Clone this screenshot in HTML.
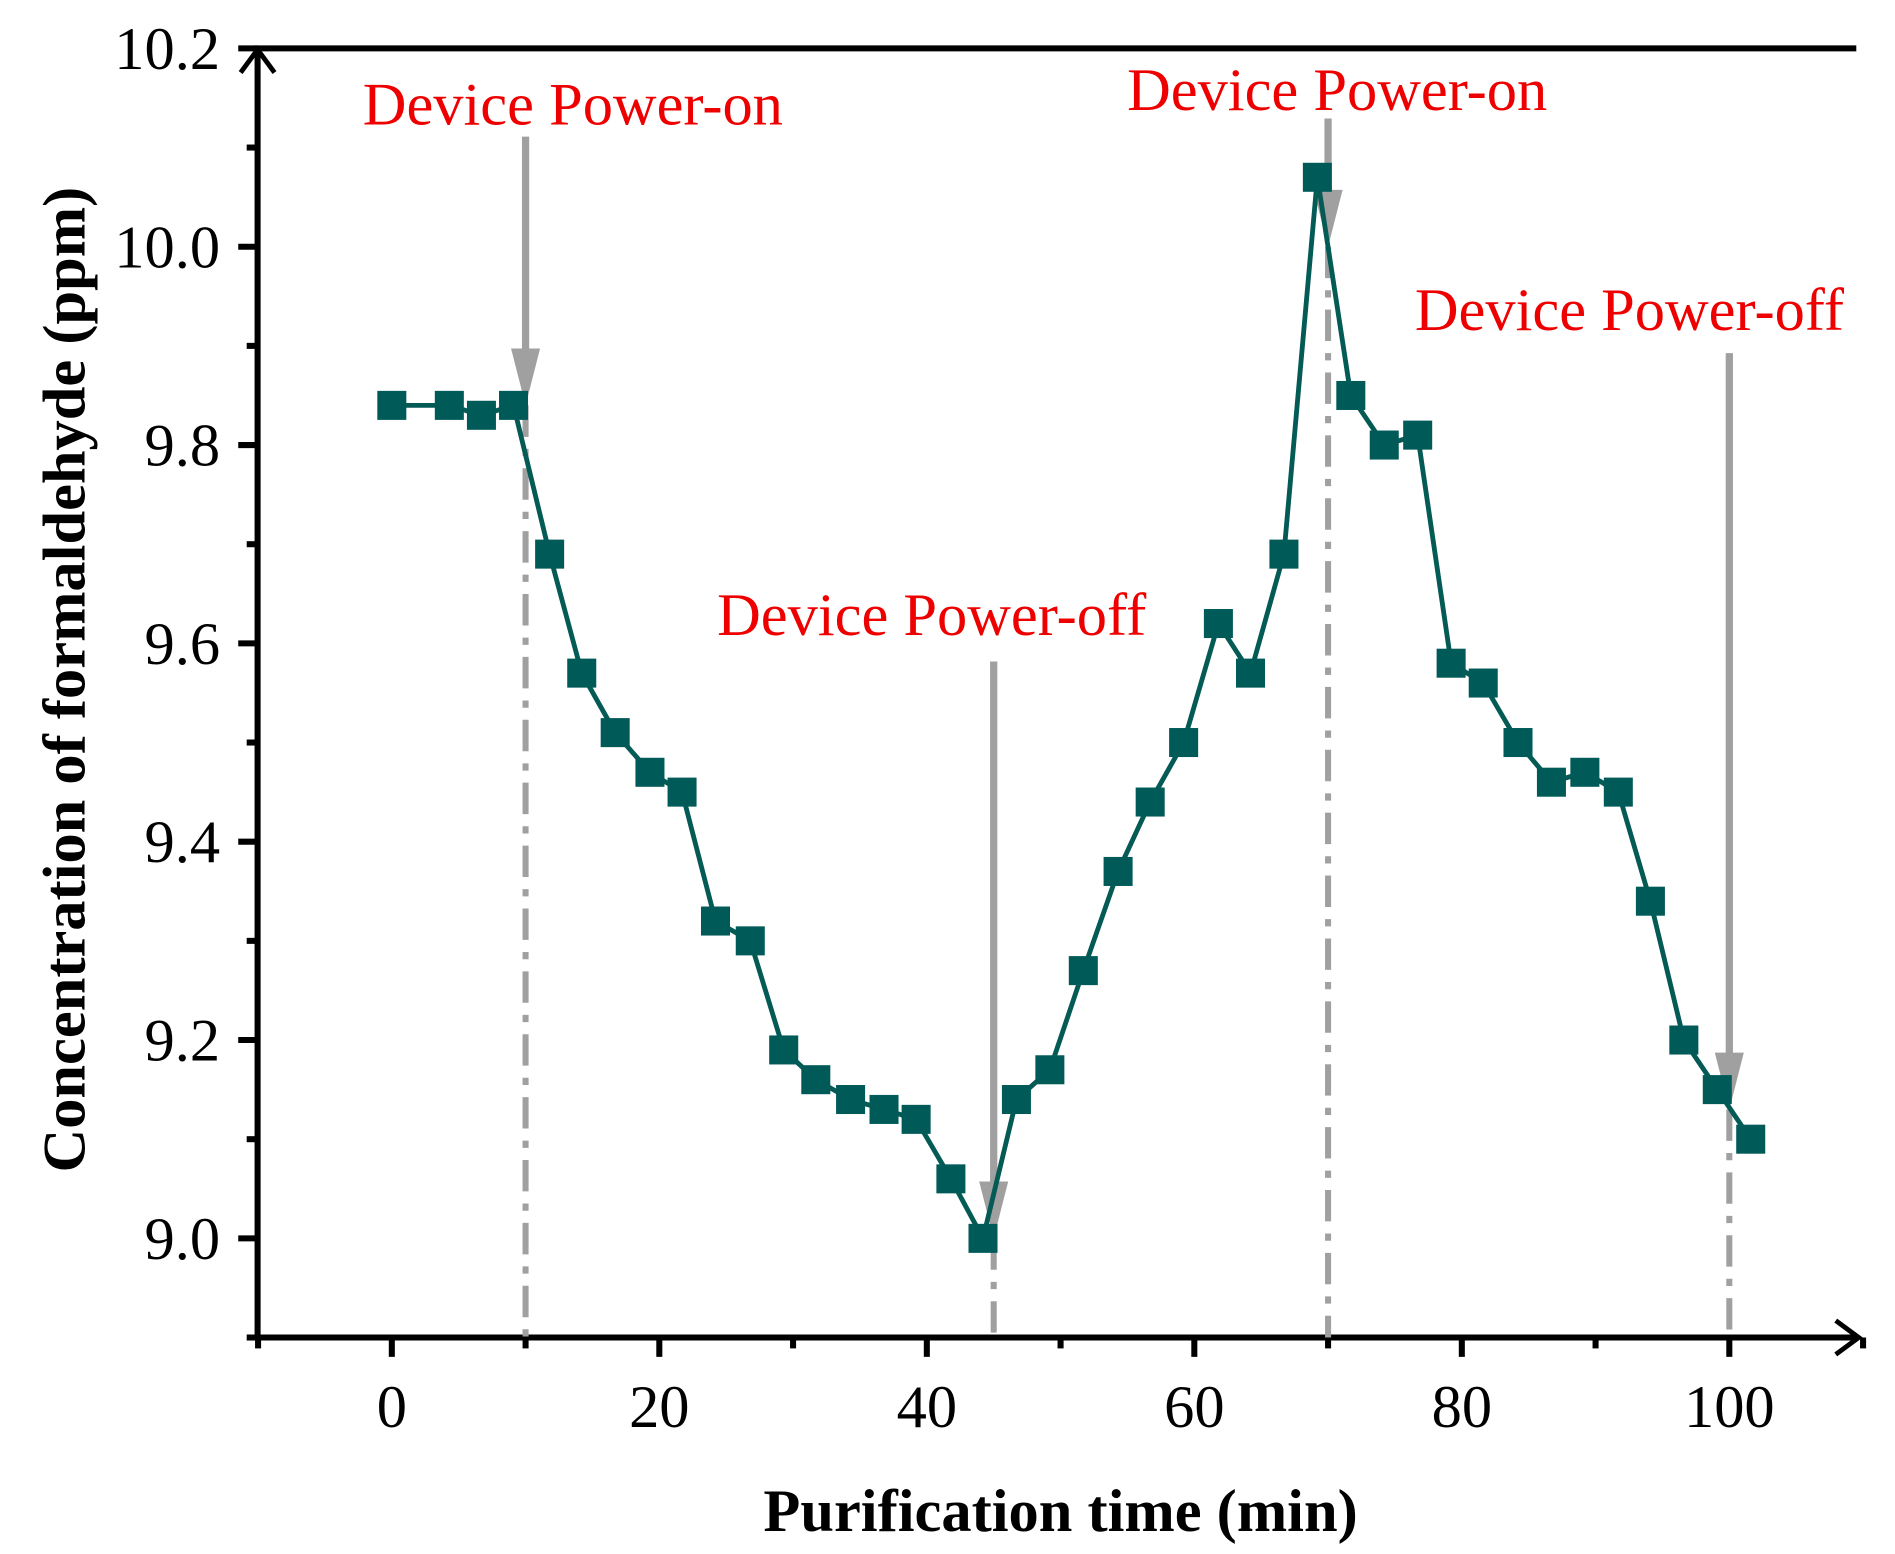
<!DOCTYPE html>
<html><head><meta charset="utf-8"><style>
html,body{margin:0;padding:0;background:#fff;}
svg{display:block;}
text{font-family:"Liberation Serif",serif;}
</style></head><body>
<svg width="1895" height="1554" viewBox="0 0 1567 1285" xmlns="http://www.w3.org/2000/svg">
<g id="axes"></g>
<g id="annot"></g>
<g id="series"></g>
<text x="877" y="1266" text-anchor="middle" font-size="50" font-weight="bold">Purification time (min)</text>
<text transform="translate(70,562) rotate(-90)" text-anchor="middle" font-size="50" font-weight="bold">Concentration of formaldehyde (ppm)</text>
</svg>
<script>
const times=[0,4.3,6.7,9.1,11.8,14.2,16.7,19.3,21.7,24.2,26.8,29.3,31.7,34.3,36.8,39.2,41.8,44.2,46.7,49.2,51.7,54.3,56.7,59.2,61.8,64.2,66.7,69.2,71.7,74.2,76.7,79.2,81.6,84.2,86.7,89.2,91.7,94.1,96.6,99.1,101.6];
const concentrations=[9.84,9.84,9.83,9.84,9.69,9.57,9.51,9.47,9.45,9.32,9.30,9.19,9.16,9.14,9.13,9.12,9.06,9.00,9.14,9.17,9.27,9.37,9.44,9.50,9.62,9.57,9.69,10.07,9.85,9.80,9.81,9.58,9.56,9.50,9.46,9.47,9.45,9.34,9.20,9.15,9.10];
const xTicks=[0,20,40,60,80,100];
const yTicks=[9.0,9.2,9.4,9.6,9.8,10.0,10.2];
const yTickLabels=["9.0","9.2","9.4","9.6","9.8","10.0","10.2"];
const eventTimes=[10,45,70,100];
const eventValues=[9.84,9.0,10.0,9.13];
const eventLabels=["Device Power-on","Device Power-off","Device Power-on","Device Power-off"];

const NS="http://www.w3.org/2000/svg";
const X=t=>324+t*11.06;
const Y=v=>1024-(v-9)*820;
function mk(tag,attrs,parent){const e=document.createElementNS(NS,tag);for(const k in attrs)e.setAttribute(k,attrs[k]);parent.appendChild(e);return e;}
const axes=document.getElementById('axes'),annot=document.getElementById('annot'),series=document.getElementById('series');
const x0=213,yb=1106,yt=40;
let e;
e=mk('path',{d:`M${x0} ${yb} V${yt} H1535`,fill:'none',stroke:'#000','stroke-width':5},axes);

e=mk('path',{d:`M${x0-4} ${yb} H1535`,fill:'none',stroke:'#000','stroke-width':5},axes);

e=mk('path',{d:`M1518 1092 L1537 ${yb} L1518 1120 M${x0-14} 60 L${x0} 41 L${x0+14} 60`,fill:'none',stroke:'#000','stroke-width':4},axes);

for(let t=-10;t<=110;t+=10){const major=xTicks.includes(t);
 e=mk('line',{x1:X(t),x2:X(t),y1:yb,y2:yb+(major?16:9),stroke:'#000','stroke-width':5},axes);
 }
xTicks.forEach(t=>{e=mk('text',{x:X(t),y:1180,'text-anchor':'middle','font-size':50},axes);e.textContent=String(t);
 });
for(let i=0;i<=13;i++){const v=8.9+i*0.1;const yy=Y(v);if(yy<yt-1||yy>yb+1)continue;const major=yTicks.some(m=>Math.abs(m-v)<1e-6);
 e=mk('line',{x1:x0,x2:x0-(major?16:9),y1:yy,y2:yy,stroke:'#000','stroke-width':5},axes);
 }
yTicks.forEach((v,i)=>{e=mk('text',{x:182,y:Y(v)+17,'text-anchor':'end','font-size':50},axes);e.textContent=yTickLabels[i];
 });
const labelPos=[[300,103,113],[593,525,547],[932,91,98],[1170,273,292]];
eventTimes.forEach((t,i)=>{const x=X(t),yp=Y(eventValues[i]);const [lx,ly,ys]=labelPos[i];
 e=mk('line',{x1:x,x2:x,y1:ys,y2:yp-45,stroke:'#a0a0a0','stroke-width':6},annot);
 
 e=mk('path',{d:`M${x-12} ${yp-47} L${x+12} ${yp-47} L${x} ${yp} Z`,fill:'#a0a0a0'},annot);
 
 e=mk('line',{x1:x,x2:x,y1:yp,y2:yb,stroke:'#a0a0a0','stroke-width':5,'stroke-dasharray':'26 10 6 10'},annot);
 
 e=mk('text',{x:lx,y:ly,fill:'#ee0000','font-size':50},annot);e.textContent=eventLabels[i];
 });
e=mk('polyline',{points:times.map((t,i)=>X(t)+','+Y(concentrations[i])).join(' '),fill:'none',stroke:'#045a55','stroke-width':4},series);

times.forEach((t,i)=>{e=mk('rect',{x:X(t)-12,y:Y(concentrations[i])-12,width:24,height:24,fill:'#005a58'},series);
 });
</script>
</body></html>
